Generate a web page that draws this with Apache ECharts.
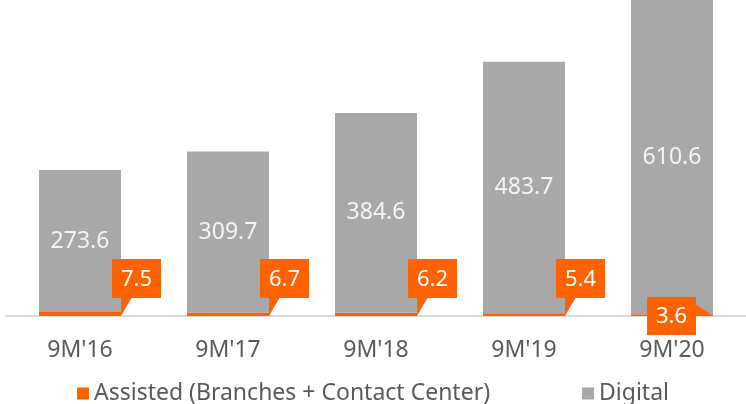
<!DOCTYPE html>
<html>
<head>
<meta charset="utf-8">
<script src="https://cdn.jsdelivr.net/npm/echarts@6/dist/echarts.min.js"></script>
<style>
  html, body { margin: 0; padding: 0; background: #fff; }
  #chart { width: 746px; height: 404px; }
</style>
</head>
<body>
<div id="chart"></div>
<script>
// data
var periods = ["9M'16", "9M'17", "9M'18", "9M'19", "9M'20"];
var assisted = [7.5, 6.7, 6.2, 5.4, 3.6];
var digital = [273.6, 309.7, 384.6, 483.7, 610.6];

var ORANGE = '#ff6200';
var GREY = '#a8a8a8';
var TEXT = '#5a5a5a';
var FONT = 'Noto Sans';
var BAR_W = 82;

// orange callout boxes pointing at the assisted bar
function calloutItem(params, api) {
  var p = api.coord([api.value(0), 0]);
  var R = p[0] + BAR_W / 2, B = p[1];
  var box, tri;
  if (params.dataIndex === periods.length - 1) {
    box = { x: R - 66, y: B - 19, width: 49, height: 38 };
    tri = [[R - 18, B - 12], [R, B], [R - 18, B]];
  } else {
    box = { x: R - 9, y: B - 57, width: 49, height: 39 };
    tri = [[R, B - 19], [R + 11, B - 19], [R, B]];
  }
  return {
    type: 'group',
    children: [
      { type: 'polygon', shape: { points: tri }, style: { fill: ORANGE } },
      { type: 'rect', shape: box, style: { fill: ORANGE } },
      {
        type: 'text',
        style: {
          text: api.value(1).toFixed(1),
          x: box.x + box.width / 2, y: box.y + box.height / 2 + 1,
          align: 'center', verticalAlign: 'middle',
          fill: '#fff', font: '22px "' + FONT + '"'
        }
      }
    ]
  };
}

var myChart = echarts.init(document.getElementById('chart'));

var option = {
  animation: false,
  textStyle: { fontFamily: FONT },
  grid: { left: 6, right: 0, top: 0, bottom: 88 },
  legend: {
    data: ['Assisted (Branches + Contact Center)', 'Digital'],
    left: 72, top: 377,
    icon: 'rect', itemWidth: 12, itemHeight: 12, itemGap: 92,
    textStyle: { fontSize: 23, color: TEXT }
  },
  xAxis: {
    type: 'category',
    data: periods,
    axisLine: { lineStyle: { color: '#d9d9d9', width: 2 } },
    axisTick: { show: false },
    axisLabel: { fontSize: 23, color: TEXT, margin: 23 }
  },
  yAxis: {
    type: 'value', min: 0, max: 608, show: false,
    splitLine: { show: false }
  },
  series: [
    {
      name: 'Assisted (Branches + Contact Center)',
      type: 'bar', stack: 'total', barWidth: BAR_W,
      itemStyle: { color: ORANGE },
      data: assisted
    },
    {
      name: 'Digital',
      type: 'bar', stack: 'total', barWidth: BAR_W,
      itemStyle: { color: GREY },
      label: {
        show: true, position: 'inside',
        fontSize: 23, color: '#f4f4f4',
        formatter: function (p) { return p.value.toFixed(1); }
      },
      data: digital
    },
    {
      name: 'callouts',
      type: 'custom',
      clip: false,
      renderItem: calloutItem,
      encode: { x: 0, y: 1 },
      data: periods.map(function (p, i) { return [i, assisted[i]]; }),
      z: 5
    }
  ]
};

myChart.setOption(option);
</script>
</body>
</html>
